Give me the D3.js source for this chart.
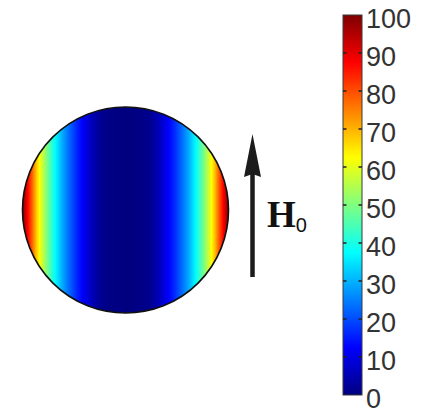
<!DOCTYPE html>
<html>
<head>
<meta charset="utf-8">
<script src="https://cdn.jsdelivr.net/npm/d3@7"></script>
<style>
  html, body { margin: 0; padding: 0; background: #fff; }
  svg { display: block; }
</style>
</head>
<body>
<svg id="chart" width="439" height="415"></svg>
<script>
// Field magnitude across the sphere: relative horizontal distance from the centre (0..1) and value (%)
const profileDist  = [0, 0.15, 0.25, 0.33, 0.40, 0.47, 0.55, 0.62, 0.68, 0.74, 0.80, 0.86, 0.91, 0.96, 1.00];
const profileValue = [0, 0.5,  2,    6,    11,   16,   23,   30,   37,   46,   56,   67,   79,   90,   100];

// Jet colour map stops
const jetStops  = [0, 12.5, 37.5, 62.5, 87.5, 100];
const jetColors = ["#00007f", "#0000ff", "#00ffff", "#ffff00", "#ff0000", "#7f0000"];

// Colour bar ticks
const barTicks = [0, 10, 20, 30, 40, 50, 60, 70, 80, 90, 100];

const svg = d3.select("#chart");
const defs = svg.append("defs");

const color = d3.scaleLinear().domain(jetStops).range(jetColors).interpolate(d3.interpolateRgb).clamp(true);
const profile = d3.scaleLinear().domain(profileDist).range(profileValue).clamp(true);

// ---- sphere ----
const cx = 125.5, cy = 210, r = 103;
const x = d3.scaleLinear().domain([-1, 1]).range([cx - r, cx + r]);

const grad = defs.append("linearGradient")
  .attr("id", "sphereFill")
  .attr("gradientUnits", "userSpaceOnUse")
  .attr("x1", x(-1)).attr("x2", x(1))
  .attr("y1", 0).attr("y2", 0);
const samples = d3.range(0, 401).map(i => -1 + i / 200);
grad.selectAll("stop").data(samples).join("stop")
  .attr("offset", d => (d + 1) / 2)
  .attr("stop-color", d => color(profile(Math.abs(d))));

svg.append("circle")
  .attr("cx", cx).attr("cy", cy).attr("r", r)
  .attr("fill", "url(#sphereFill)")
  .attr("stroke", "#111")
  .attr("stroke-width", 1.6);

// ---- applied field arrow ----
const arrowX = 252.5;
svg.append("line")
  .attr("x1", arrowX).attr("x2", arrowX)
  .attr("y1", 277).attr("y2", 172)
  .attr("stroke", "#1c1c1c")
  .attr("stroke-width", 4.5);
svg.append("path")
  .attr("d", `M${arrowX},134 L${arrowX + 8.5},177 L${arrowX},174 L${arrowX - 8.5},177 Z`)
  .attr("fill", "#1c1c1c");

const label = svg.append("text")
  .attr("x", 267).attr("y", 227)
  .attr("fill", "#111");
label.append("tspan")
  .attr("font-family", "'Liberation Serif', 'Times New Roman', serif")
  .attr("font-weight", "bold")
  .attr("font-size", 37)
  .text("H");
label.append("tspan")
  .attr("font-family", "'Liberation Sans', Arial, sans-serif")
  .attr("font-size", 20)
  .attr("dy", 5)
  .text("0");

// ---- colour bar ----
const barX = 343, barW = 19;
const yBar = d3.scaleLinear().domain([0, 100]).range([395, 15]);

const barGrad = defs.append("linearGradient")
  .attr("id", "barFill")
  .attr("gradientUnits", "userSpaceOnUse")
  .attr("x1", 0).attr("x2", 0)
  .attr("y1", yBar(0)).attr("y2", yBar(100));
barGrad.selectAll("stop").data(jetStops).join("stop")
  .attr("offset", d => d / 100)
  .attr("stop-color", d => color(d));

svg.append("rect")
  .attr("x", barX).attr("y", yBar(100))
  .attr("width", barW).attr("height", yBar(0) - yBar(100))
  .attr("fill", "url(#barFill)")
  .attr("stroke", "#3a3a3a")
  .attr("stroke-width", 1);

// inner tick marks on both edges of the bar
const tickG = svg.append("g");
barTicks.filter(t => t > 0 && t < 100).forEach(t => {
  tickG.append("line")
    .attr("x1", barX).attr("x2", barX + 3.5)
    .attr("y1", yBar(t)).attr("y2", yBar(t))
    .attr("stroke", "#222").attr("stroke-width", 1.5);
  tickG.append("line")
    .attr("x1", barX + barW - 3.5).attr("x2", barX + barW)
    .attr("y1", yBar(t)).attr("y2", yBar(t))
    .attr("stroke", "#222").attr("stroke-width", 1.5);
});

// tick labels
const axis = d3.axisRight(yBar).tickValues(barTicks).tickSize(0).tickPadding(0).tickFormat(d3.format("d"));
const axisG = svg.append("g")
  .attr("transform", `translate(${barX + barW + 4},4)`)
  .call(axis);
axisG.select(".domain").remove();
axisG.selectAll("text")
  .attr("font-family", "'Liberation Sans', Arial, sans-serif")
  .attr("font-size", 27)
  .attr("fill", "#333");
</script>
</body>
</html>
